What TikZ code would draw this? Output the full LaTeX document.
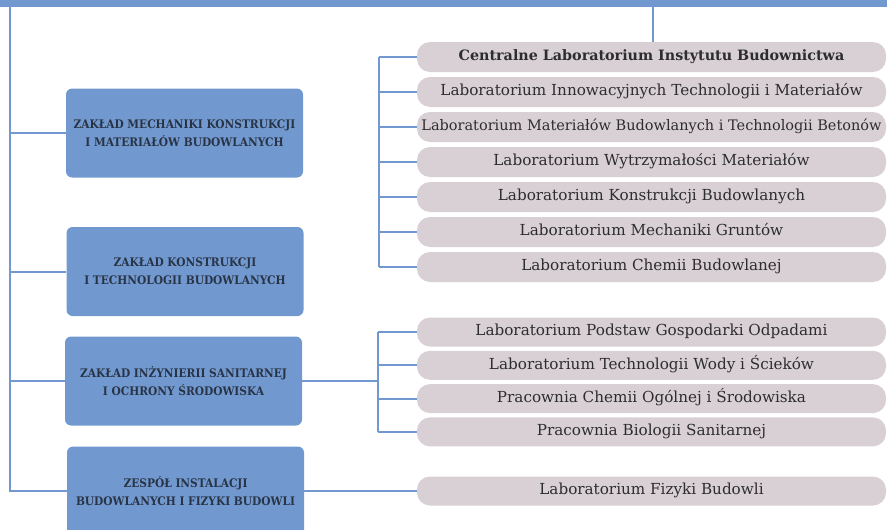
\documentclass[tikz,border=0pt]{standalone}
\usepackage{fontspec}
\setmainfont{DejaVu Serif}
\newfontfamily\unitfont{DejaVu Serif Condensed}
\usetikzlibrary{positioning}
\definecolor{unitblue}{RGB}{114,153,207}
\definecolor{labgrey}{RGB}{216,208,213}
\definecolor{labtext}{RGB}{45,45,45}
\definecolor{unittext}{RGB}{40,52,70}

\tikzset{
  link/.style={draw=unitblue,line width=2pt},
  unitbox/.style={fill=unitblue,rounded corners=6pt,minimum width=237pt,minimum height=89pt,
    align=center,text=unittext,font=\unitfont\fontsize{11.8}{18}\selectfont\bfseries},
  labbox/.style={fill=labgrey,rounded corners=13pt,minimum width=469pt,inner sep=0pt,
    text=labtext,font=\fontsize{15.2}{18}\selectfont},
}

\begin{document}
\begin{tikzpicture}[x=1pt,y=-1pt]
\useasboundingbox (0,0) rectangle (887,530);

% top bar and trunks
\fill[unitblue] (0,0) rectangle (887,7);
\coordinate (trunk) at (10,7);
\coordinate (drop) at (653,7);
\coordinate (brA) at (379,0);
\coordinate (brB) at (378,0);

% units
\node [unitbox] (u1) at (184.5,133) {ZAKŁAD MECHANIKI KONSTRUKCJI\\I MATERIAŁÓW BUDOWLANYCH};
\node [unitbox] (u2) at (185,271.5) {ZAKŁAD KONSTRUKCJI\\I TECHNOLOGII BUDOWLANYCH};
\node [unitbox] (u3) at (183.5,381) {ZAKŁAD INŻYNIERII SANITARNEJ\\I OCHRONY ŚRODOWISKA};
\node [unitbox] (u4) at (185.5,491) {ZESPÓŁ INSTALACJI\\BUDOWLANYCH I FIZYKI BUDOWLI};

% laboratories
\def\labsA{1/{\fontsize{14.3}{18}\selectfont\bfseries Centralne Laboratorium Instytutu Budownictwa},2/{Laboratorium Innowacyjnych Technologii i Materiałów},3/{\fontsize{14.5}{18}\selectfont Laboratorium Materiałów Budowlanych i Technologii Betonów},4/{Laboratorium Wytrzymałości Materiałów},5/{Laboratorium Konstrukcji Budowlanych},6/{Laboratorium Mechaniki Gruntów},7/{Laboratorium Chemii Budowlanej}}
\foreach \i / \element in \labsA
  \node [labbox,minimum height=30pt] (a\i) at (651.5,{22+35*\i}) {\strut\element};

\def\labsB{1/{Laboratorium Podstaw Gospodarki Odpadami},2/{Laboratorium Technologii Wody i Ścieków},3/{Pracownia Chemii Ogólnej i Środowiska},4/{Pracownia Biologii Sanitarnej}}
\foreach \i / \element in \labsB
  \node [labbox,minimum height=29pt] (b\i) at (651.5,{298.7+33.3*\i}) {\strut\element};

\node [labbox,minimum height=29pt] (c1) at (651.5,491) {\strut Laboratorium Fizyki Budowli};

% connectors
\draw [link] (trunk) -- (trunk |- u4.west) -- (u4.west);
\foreach \u in {1,2,3}
  \draw [link] (u\u.west -| trunk) -- (u\u.west);
\draw [link] (drop) -- (a1.north -| drop);
\draw [link] (a1.west -| brA) -- (a7.west -| brA);
\foreach \i in {1,...,7}
  \draw [link] (a\i.west -| brA) -- (a\i.west);
\draw [link] (u3.east) -- (u3.east -| brB);
\draw [link] (b1.west -| brB) -- (b4.west -| brB);
\foreach \i in {1,...,4}
  \draw [link] (b\i.west -| brB) -- (b\i.west);
\draw [link] (u4.east) -- (c1.west);

\end{tikzpicture}
\end{document}
